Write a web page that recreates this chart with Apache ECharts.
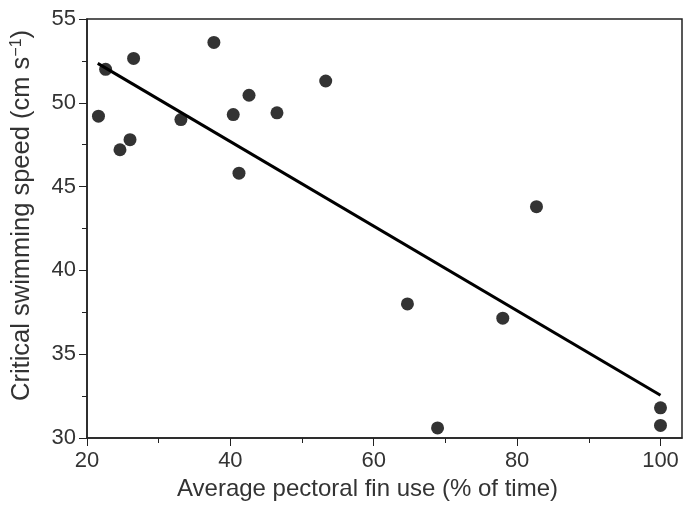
<!DOCTYPE html>
<html>
<head>
<meta charset="utf-8">
<script src="https://cdn.jsdelivr.net/npm/echarts@6/dist/echarts.min.js"></script>
<style>
  html, body { margin: 0; padding: 0; background: #fff; }
  #chart { width: 686px; height: 514px; }
</style>
</head>
<body>
<div id="chart"></div>
<script>
// values
const finUse = [21.6, 22.6, 26.5, 24.6, 26.0, 33.1, 37.7, 40.4, 42.6, 41.2, 46.5, 53.3, 64.7, 68.9, 78.0, 82.7, 100, 100];
const speed = [49.2, 52.0, 52.65, 47.2, 47.8, 49.0, 53.6, 49.3, 50.45, 45.8, 49.4, 51.3, 38.0, 30.6, 37.15, 43.8, 31.8, 30.75];
const trendX = [21.5, 100];
const trendY = [52.35, 32.55];
const xTicks = [20, 40, 60, 80, 100];
const xMinorTicks = [30, 50, 70, 90];

const textColor = '#333';
const lineColor = '#222';
const fontFamily = 'Liberation Sans, Arial, sans-serif';

const chart = echarts.init(document.getElementById('chart'));

chart.setOption({
  animation: false,
  grid: {
    left: 87, right: 4, top: 19, bottom: 76,
    show: true,
    borderColor: lineColor,
    borderWidth: 1.5
  },
  xAxis: [
    {
      type: 'value',
      min: 20,
      max: 103,
      name: 'Average pectoral fin use (% of time)',
      nameLocation: 'middle',
      nameGap: 37,
      nameTextStyle: { color: textColor, fontSize: 24, fontFamily: fontFamily, padding: [0, 34, 0, 0] },
      axisLine: { show: true, lineStyle: { color: lineColor, width: 1.5 } },
      axisTick: { show: true, length: 8, customValues: xTicks, lineStyle: { color: lineColor } },
      axisLabel: { customValues: xTicks, color: textColor, fontSize: 22, fontFamily: fontFamily, margin: 12 },
      splitLine: { show: false }
    },
    {
      type: 'value',
      min: 20,
      max: 103,
      position: 'bottom',
      axisLine: { show: false },
      axisTick: { show: true, length: 5, customValues: xMinorTicks, lineStyle: { color: lineColor } },
      axisLabel: { show: false },
      splitLine: { show: false }
    }
  ],
  yAxis: {
    type: 'value',
    min: 30,
    max: 55,
    interval: 5,
    name: 'Critical swimming speed (cm s{sup|−1})',
    nameLocation: 'middle',
    nameGap: 52,
    nameTextStyle: {
      color: textColor, fontSize: 25.5, fontFamily: fontFamily, padding: [0, 0, 0, 26],
      rich: { sup: { fontSize: 16, verticalAlign: 'top', color: textColor, fontFamily: fontFamily, padding: [0, 0, 8, 0] } }
    },
    axisLine: { show: true, lineStyle: { color: lineColor, width: 1.5 } },
    axisTick: { show: true, length: 8, lineStyle: { color: lineColor } },
    minorTick: { show: true, splitNumber: 2, length: 5, lineStyle: { color: lineColor } },
    axisLabel: { color: textColor, fontSize: 22, fontFamily: fontFamily, margin: 11 },
    splitLine: { show: false },
    minorSplitLine: { show: false }
  },
  series: [
    {
      type: 'line',
      data: trendX.map((x, i) => [x, trendY[i]]),
      symbol: 'none',
      lineStyle: { color: '#000', width: 3 },
      z: 2
    },
    {
      type: 'scatter',
      data: finUse.map((x, i) => [x, speed[i]]),
      symbol: 'circle',
      symbolSize: 13,
      itemStyle: { color: '#000' },
      z: 3
    }
  ]
});
</script>
</body>
</html>
